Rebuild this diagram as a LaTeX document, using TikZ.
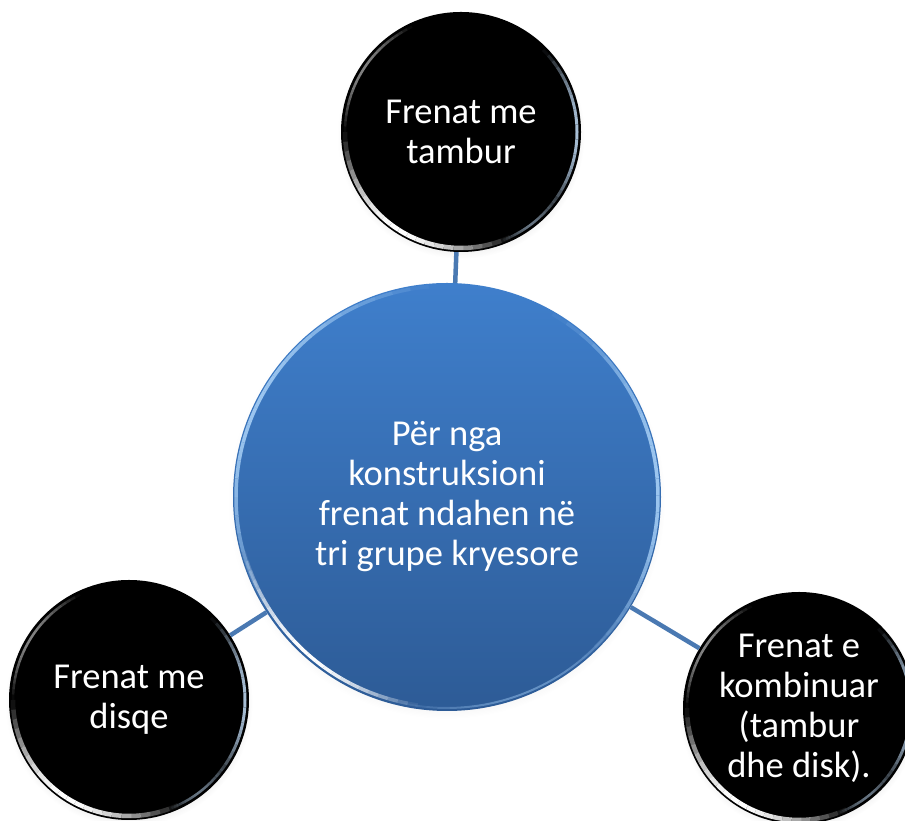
\documentclass[tikz,border=0pt]{standalone}
\usepackage{fontspec}
\setmainfont{Carlito}
\usetikzlibrary{calc,shadows}

\definecolor{hubtop}{HTML}{3F7FCC}
\definecolor{hubbot}{HTML}{2D5B96}
\definecolor{linkblue}{HTML}{4A79B2}
\definecolor{rimblue}{HTML}{9CC6F0}
\definecolor{rimgrey}{HTML}{A8BFD6}

\tikzset{
  label text/.style={text=white, align=center, font=\fontsize{36.5}{40}\selectfont},
  hub/.style={circle, minimum size=428pt, inner sep=0pt,
    top color=hubtop, bottom color=hubbot, label text,
    circular drop shadow={shadow xshift=0pt, shadow yshift=-3pt, opacity=0.2, shadow scale=1.02}},
  leaf/.style={circle, minimum size=#1, inner sep=0pt, fill=black, label text,
    circular drop shadow={shadow xshift=0pt, shadow yshift=-3pt, opacity=0.2, shadow scale=1.03}},
  leaf/.default=240pt,
  link/.style={draw=linkblue, line width=4.5pt},
}

% soft highlight along the inside of a circle's rim:
% #1 node, #2 radius, #3 start angle, #4 end angle, #5 colour, #6 peak opacity, #7 width
\newcommand{\rimglow}[7]{%
  \foreach \k in {0,...,23}{%
    \pgfmathsetmacro\ga{#3+(#4-#3)*\k/24}%
    \pgfmathsetmacro\gb{#3+(#4-#3)*(\k+1)/24}%
    \pgfmathsetmacro\go{#6*sin(180*(\k+0.5)/24)}%
    \draw[#5, opacity=\go, line width=#7]
      ([shift={(\ga:#2)}]#1.center) arc[start angle=\ga, end angle=\gb, radius=#2];
  }%
}

\begin{document}
\begin{tikzpicture}[x=1pt,y=1pt]
  \useasboundingbox (0,0) rectangle (905,821);

  % central hub and the three brake groups
  \node[hub] (c) at (447,324) {Për nga\\konstruksioni\\frenat ndahen në\\tri grupe kryesore};
  \node[leaf] (t) at (461,689) {Frenat me\\tambur};
  \node[leaf] (l) at (129,121) {Frenat me\\disqe};
  \node[leaf=232pt] (r) at (799,113) {Frenat e\\kombinuar\\(tambur\\dhe disk).};

  % connectors
  \draw[link] (c) -- (t);
  \draw[link] (c) -- (l);
  \draw[link] (c) -- (r);

  % bevel highlights on the hub
  \rimglow{c}{211}{95}{215}{rimblue}{1}{3.5pt}
  \rimglow{c}{211}{-50}{60}{rimblue}{1}{3.5pt}
  \rimglow{c}{210}{195}{262}{white}{1}{3.5pt}
  \rimglow{c}{211}{255}{330}{rimblue}{0.5}{2pt}

  % gloss on the black circles
  \foreach \n/\rr in {t/116, l/116, r/112}{
    \rimglow{\n}{\rr}{180}{295}{white}{1}{4.5pt}
    \rimglow{\n}{\rr}{115}{180}{white}{0.5}{2.5pt}
    \rimglow{\n}{\rr}{-45}{45}{rimgrey}{1}{3pt}
    \rimglow{\n}{\rr}{290}{325}{rimgrey}{0.6}{2.5pt}
  }
\end{tikzpicture}
\end{document}
